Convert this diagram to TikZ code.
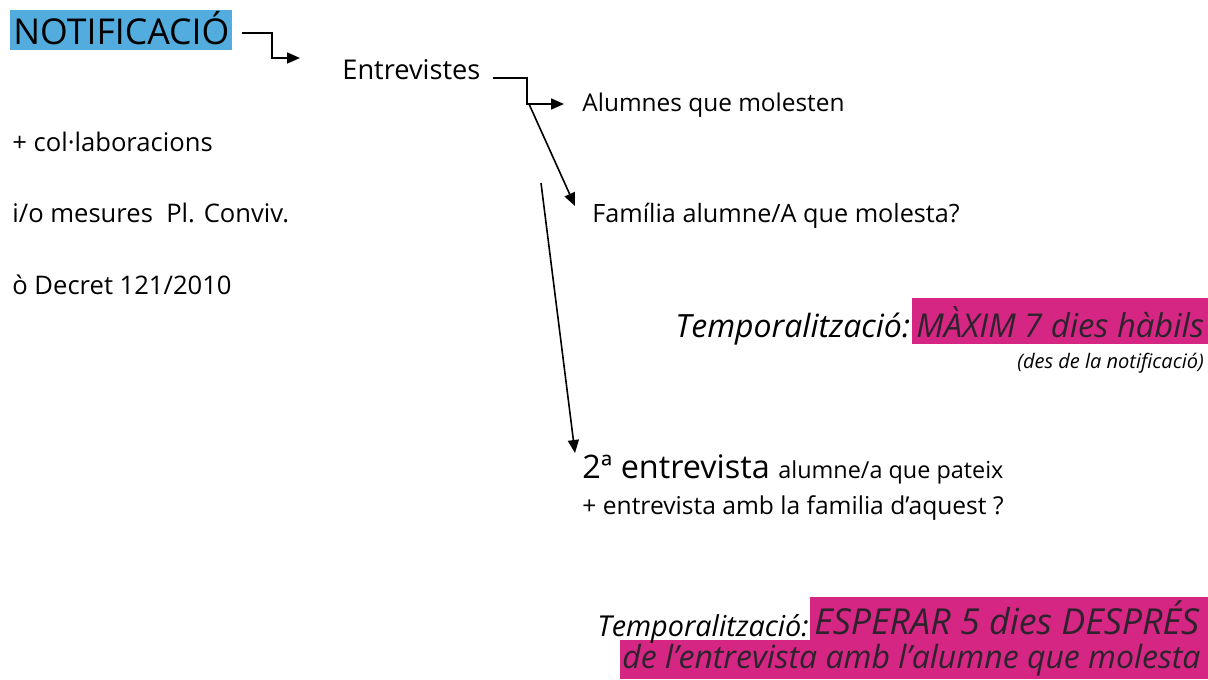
\documentclass[tikz,border=0pt]{standalone}
\usepackage{fontspec}
\setmainfont{Open Sans}
\usetikzlibrary{arrows.meta}
\definecolor{notifblue}{RGB}{82,172,222}
\definecolor{terminipink}{RGB}{212,38,130}
\definecolor{pinkink}{RGB}{45,35,45}

\begin{document}
\begin{tikzpicture}[x=0.5pt,y=-0.5pt,
  txt/.style={anchor=base west,inner sep=0pt,text=black},
  arr/.style={-{Triangle[length=6.5pt,width=5.5pt]},line width=0.8pt}]
\useasboundingbox (0,0) rectangle (1208,679);
\clip (0,0) rectangle (1208,679);

% highlights
\fill[notifblue] (10,10) rectangle (232,50);
\fill[terminipink] (912,298) rectangle (1208,344);
\fill[terminipink] (810,597) rectangle (1208,641);
\fill[terminipink] (620,640) rectangle (1208,679);

% left column
\node[txt,font=\fontsize{17.8}{20}\selectfont] (notif) at (13,45) {NOTIFICACIÓ};
\node[txt,font=\fontsize{12.8}{15}\selectfont] (collab) at (12,152) {+ col·laboracions};
\node[txt,font=\fontsize{12.8}{15}\selectfont] (mesures) at (12,222) {i/o mesures\ \ Pl. Conviv.};
\node[txt,font=\fontsize{12.8}{15}\selectfont] (decret) at (12,294) {ò Decret 121/2010};

% entrevistes
\node[txt,font=\fontsize{13.6}{16}\selectfont] (entr) at (342,80) {Entrevistes};
\node[txt,font=\fontsize{12.2}{14}\selectfont] (alumnes) at (582,112) {Alumnes que molesten};
\node[txt,font=\fontsize{12.6}{15}\selectfont] (familia) at (592,222) {Família alumne/A que molesta?};

\node[txt,font=\fontsize{16}{19}\selectfont\itshape] (temp1) at (675,337) {Temporalització:};
\node[txt,font=\fontsize{16.4}{19}\selectfont\itshape,text=pinkink] (maxim) at (916,337) {MÀXIM 7 dies hàbils};
\node[txt,font=\fontsize{10}{12}\selectfont\itshape] (desde) at (1017,368) {(des de la notificació)};

\node[txt,font=\fontsize{16.2}{19}\selectfont] (segona) at (582,478) {2ª entrevista};
\node[txt,font=\fontsize{11.7}{14}\selectfont] (pateix) at (778,478) {alumne/a que pateix};
\node[txt,font=\fontsize{12.3}{15}\selectfont] (familia2) at (582,514) {+ entrevista amb la familia d'aquest ?};

\node[txt,font=\fontsize{14.4}{17}\selectfont\itshape] (temp2) at (597,636) {Temporalització:};
\node[txt,font=\fontsize{17.9}{20}\selectfont\itshape,text=pinkink] (esperar) at (814,634) {ESPERAR 5 dies DESPRÉS};
\node[txt,font=\fontsize{16}{19}\selectfont\itshape,text=pinkink] (molesta) at (622,668) {de l'entrevista amb l'alumne que molesta};

% arrows
\coordinate (n1) at (242,33);
\coordinate (e1) at (300,58);
\draw[arr] (n1) -| (272,58) -- (e1);
\coordinate (n2) at (493,78);
\coordinate (a2) at (564,104);
\draw[arr] (n2) -| (527,104) -- (a2);
\coordinate (d0) at (529,104);
\coordinate (d1) at (575,206);
\draw[arr] (d0) -- (d1);
\coordinate (v0) at (541,183);
\coordinate (v1) at (575,453);
\draw[arr] (v0) -- (v1);
\end{tikzpicture}
\end{document}
